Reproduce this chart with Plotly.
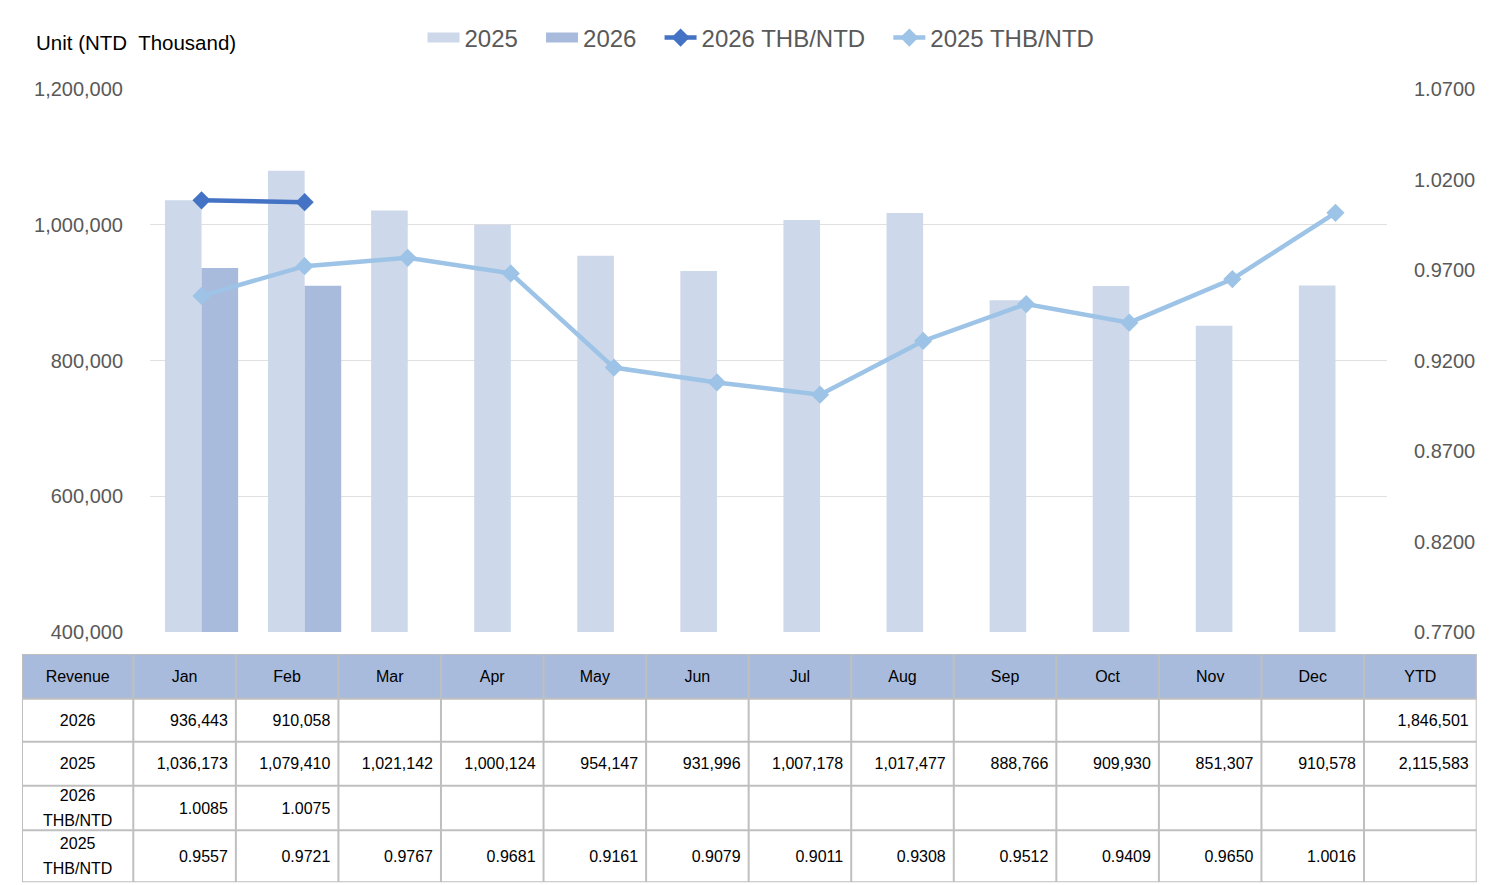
import plotly.graph_objects as go

months = ["Jan", "Feb", "Mar", "Apr", "May", "Jun", "Jul", "Aug", "Sep", "Oct", "Nov", "Dec"]
rev_2025 = [1036173, 1079410, 1021142, 1000124, 954147, 931996, 1007178, 1017477, 888766, 909930, 851307, 910578]
rev_2026 = [936443, 910058]
fx_2026 = [1.0085, 1.0075]
fx_2025 = [0.9557, 0.9721, 0.9767, 0.9681, 0.9161, 0.9079, 0.9011, 0.9308, 0.9512, 0.9409, 0.9650, 1.0016]
ytd_2026 = 1846501
ytd_2025 = 2115583

left_ticks = [400000, 600000, 800000, 1000000, 1200000]
right_ticks = [0.77, 0.82, 0.87, 0.92, 0.97, 1.02, 1.07]

C25 = "#cdd8ea"
C26 = "#a9bbdc"
L26 = "#4472c4"
L25 = "#9dc3e6"
GRID = "#bfbfbf"
FONT = "Liberation Sans, Arial, sans-serif"
SP = "\u00a0\u00a0\u2009"  # extra spacing after legend labels

# page body has an 8px margin, so the figure is laid out in shifted pixels
OFF = 8
W, H = 1500 - OFF, 885 - OFF


def px_x(x):
    return (x - OFF) / W


def px_y(y):
    return 1 - (y - OFF) / H


fig = go.Figure()

# legend-only entries drawn as wide swatches
fig.add_trace(go.Scatter(x=[months[0]], y=[None], name="2025" + SP, mode="lines",
                         line=dict(color=C25, width=15), hoverinfo="skip"))
fig.add_trace(go.Scatter(x=[months[0]], y=[None], name="2026" + SP, mode="lines",
                         line=dict(color=C26, width=15), hoverinfo="skip"))

fig.add_trace(go.Bar(x=months, y=rev_2025, name="2025", marker=dict(color=C25, line=dict(width=0)),
                     showlegend=False, offsetgroup="a"))
fig.add_trace(go.Bar(x=months[:len(rev_2026)], y=rev_2026, name="2026",
                     marker=dict(color=C26, line=dict(width=0)), showlegend=False, offsetgroup="b"))
fig.add_trace(go.Scatter(x=months[:len(fx_2026)], y=fx_2026, name="2026 THB/NTD" + SP, mode="lines+markers",
                         line=dict(color=L26, width=4.5), marker=dict(symbol="diamond", size=14, color=L26),
                         yaxis="y2"))
fig.add_trace(go.Scatter(x=months, y=fx_2025, name="2025 THB/NTD", mode="lines+markers",
                         line=dict(color=L25, width=4.5), marker=dict(symbol="diamond", size=14, color=L25),
                         yaxis="y2"))


# ---------------- table ----------------
def fmt_int(v):
    return f"{v:,}"


def fmt_fx(v):
    return f"{v:.4f}"


header = ["Revenue"] + months + ["YTD"]
row_2026 = ["2026"] + [fmt_int(v) for v in rev_2026] + [""] * (12 - len(rev_2026)) + [fmt_int(ytd_2026)]
row_2025 = ["2025"] + [fmt_int(v) for v in rev_2025] + [fmt_int(ytd_2025)]
row_f26 = ["2026\nTHB/NTD"] + [fmt_fx(v) for v in fx_2026] + [""] * (12 - len(fx_2026)) + [""]
row_f25 = ["2025\nTHB/NTD"] + [fmt_fx(v) for v in fx_2025] + [""]
table_rows = [header, row_2026, row_2025, row_f26, row_f25]

col_w = [111.3] + [102.56] * 12 + [112.7]
row_h = [44.7, 43.0, 44.0, 44.6, 52.0]
col_edges = [0.0]
for w in col_w:
    col_edges.append(col_edges[-1] + w)
row_edges = [0.0]
for h in row_h:
    row_edges.append(row_edges[-1] + h)
TX0, TX1 = 22, 22 + col_edges[-1]
TY0, TY1 = 654, 654 + row_edges[-1]

z = [[1] * len(col_w)] + [[0] * len(col_w) for _ in row_h[1:]]
fig.add_trace(go.Heatmap(x=col_edges, y=row_edges, z=z, zmin=0, zmax=1,
                         colorscale=[[0, "white"], [1, C26]], showscale=False,
                         hoverinfo="skip", xaxis="x2", yaxis="y3"))

PAD = 8
TEXT_DY = 1.5
LINE_GAP = 12.5
for r, row in enumerate(table_rows):
    yc = (row_edges[r] + row_edges[r + 1]) / 2 + TEXT_DY
    xs, ys, ts, pos = [], [], [], []
    for c, val in enumerate(row):
        if val == "":
            continue
        if r == 0 or c == 0:
            xc = (col_edges[c] + col_edges[c + 1]) / 2
            lines = val.split("\n")
            if len(lines) == 2:
                for ln, dy in zip(lines, (-LINE_GAP, LINE_GAP)):
                    xs.append(xc)
                    ys.append(yc + dy)
                    ts.append(ln)
                    pos.append("middle center")
                continue
            xs.append(xc)
            pos.append("middle center")
        else:
            xs.append(col_edges[c + 1] - PAD)
            pos.append("middle left")
        ys.append(yc)
        ts.append(val)
    fig.add_trace(go.Scatter(x=xs, y=ys, text=ts, mode="text", textposition=pos,
                             textfont=dict(family=FONT, size=16, color="#000000"),
                             showlegend=False, hoverinfo="skip", cliponaxis=False,
                             xaxis="x2", yaxis="y3"))

shapes = []
for e in col_edges:
    shapes.append(dict(type="line", xref="x2", yref="y3", x0=e, x1=e, y0=0, y1=row_edges[-1],
                       line=dict(color=GRID, width=2)))
for e in row_edges:
    shapes.append(dict(type="line", xref="x2", yref="y3", x0=0, x1=col_edges[-1], y0=e, y1=e,
                       line=dict(color=GRID, width=2)))

fig.update_layout(
    width=W, height=H,
    margin=dict(l=0, r=0, t=0, b=0, autoexpand=False),
    paper_bgcolor="white", plot_bgcolor="white",
    font=dict(family=FONT, color="#595959"),
    barmode="group", bargap=0.29, bargroupgap=0,
    xaxis=dict(domain=[px_x(150), px_x(1387)], type="category", categoryorder="array",
               categoryarray=months, range=[-0.5, len(months) - 0.5],
               showticklabels=False, showgrid=False, zeroline=False,
               showline=False, anchor="y", fixedrange=True),
    yaxis=dict(domain=[px_y(632), px_y(89)], range=[400000, 1200000], tickvals=left_ticks,
               tickformat=",d", showgrid=True, gridcolor="#e0e0e0", gridwidth=1.3, zeroline=False,
               tickfont=dict(size=20, color="#595959"), ticks="", ticklabelstandoff=26,
               fixedrange=True, automargin=False),
    yaxis2=dict(overlaying="y", side="right", range=[0.77, 1.07], tickvals=right_ticks,
                tickformat=".4f", showgrid=False, zeroline=False, anchor="x",
                tickfont=dict(size=20, color="#595959"), ticklabelstandoff=26,
                fixedrange=True, automargin=False),
    xaxis2=dict(domain=[px_x(TX0), px_x(TX1)], range=[0, col_edges[-1]], visible=False,
                anchor="y3", fixedrange=True),
    yaxis3=dict(domain=[px_y(TY1), px_y(TY0)], range=[row_edges[-1], 0], visible=False,
                anchor="x2", fixedrange=True),
    legend=dict(orientation="h", x=px_x(761), xanchor="center", y=px_y(38), yanchor="middle",
                font=dict(size=24, color="#595959"), itemwidth=32, traceorder="normal",
                bgcolor="rgba(0,0,0,0)"),
    showlegend=True,
    shapes=shapes,
)

fig.add_annotation(text="Unit (NTD  Thousand)", xref="paper", yref="paper", x=px_x(34), y=px_y(42),
                   xanchor="left", yanchor="middle", showarrow=False,
                   font=dict(family=FONT, size=20.5, color="#000000"))

fig.write_html("out.html")
